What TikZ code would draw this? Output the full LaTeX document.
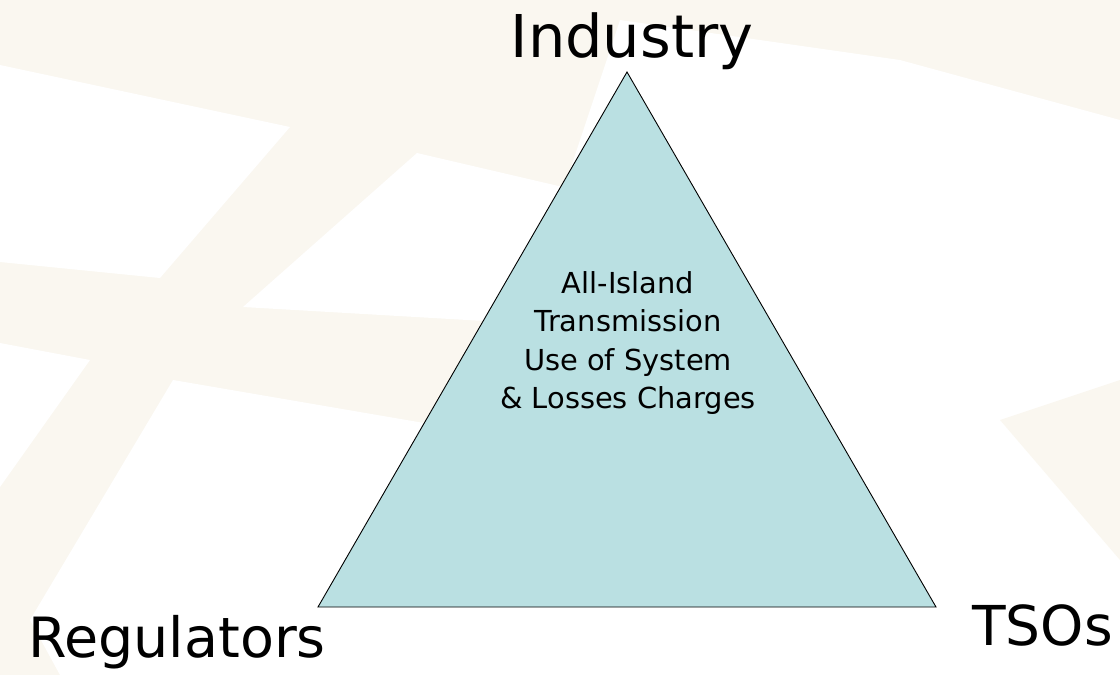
\documentclass[tikz,border=0pt]{standalone}
\usepackage{fontspec}
\setmainfont{DejaVu Sans}
\usepackage{tikz}
\usetikzlibrary{calc}

\definecolor{cream}{RGB}{250,247,240}
\definecolor{tealfill}{RGB}{186,224,226}

\tikzset{
    corner/.style={font=\fontsize{56}{66}\selectfont, inner sep=0pt},
    charges/.style={font=\fontsize{28.9}{38.5}\selectfont, align=center, inner sep=0pt}
}

\begin{document}
\begin{tikzpicture}[x=1pt, y=-1pt]
        \useasboundingbox (0,0) rectangle (1120,675);

        % faint background bands
        \fill[cream] (0,0) rectangle (1120,675);
        \fill[white] (0,65) -- (290,127) -- (160,278) -- (0,262) -- cycle;
        \fill[white] (417,153) -- (640,205) -- (640,330) -- (243,307) -- cycle;
        \fill[white] (620,20) -- (900,60) -- (1120,120) -- (1120,675) -- (560,675) -- (560,200) -- cycle;
        \fill[cream] (1120,380) -- (1000,420) -- (1120,560) -- cycle;
        \fill[white] (173,380) -- (640,460) -- (640,675) -- (60,675) -- (30,620) -- cycle;
        \fill[white] (0,343) -- (90,360) -- (0,487) -- cycle;

        \coordinate (top) at (627,72);
        \coordinate (left) at (318,607);
        \coordinate (right) at (936,607);
        \draw [fill=tealfill, line width=0.9pt] (top) -- (left) -- (right) -- cycle;

        \node (charges) at (628,343) [charges] {All-Island\\Transmission\\Use of System\\\& Losses Charges};

        \node (industry) at (632,57) [corner, anchor=base, font=\fontsize{59}{70}\selectfont] {Industry};
        \node (regulators) at (28,657) [corner, anchor=base west, font=\fontsize{55.5}{66}\selectfont] {Regulators};
        \node (tsos) at (972,645) [corner, anchor=base west, font=\fontsize{55}{66}\selectfont] {TSOs};
    \end{tikzpicture}
\end{document}
